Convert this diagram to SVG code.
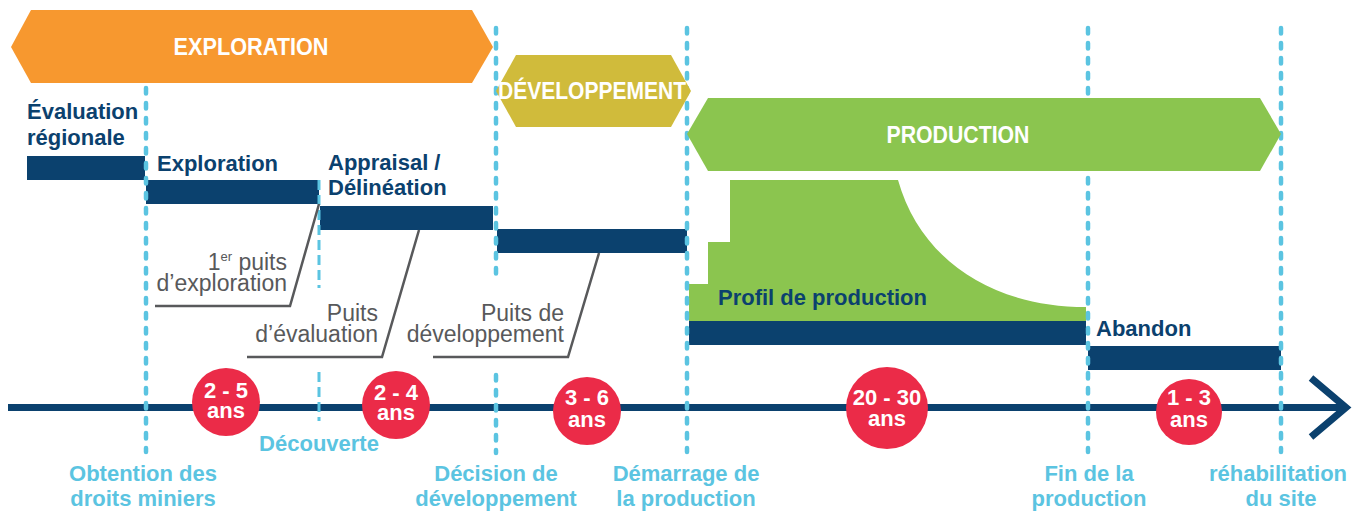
<svg xmlns="http://www.w3.org/2000/svg" width="1364" height="512" viewBox="0 0 1364 512">
  <style>
    .navy { fill: #0B416E; }
    .lbl { font-family: "Liberation Sans", Arial, sans-serif; font-weight: bold; font-size: 22px; fill: #0B416E; }
    .phase { font-family: "Liberation Sans", Arial, sans-serif; font-weight: bold; font-size: 23px; fill: #FFFFFF; text-anchor: middle; }
    .well { font-family: "Liberation Sans", Arial, sans-serif; font-size: 23px; fill: #58595B; text-anchor: end; }
    .mile { font-family: "Liberation Sans", Arial, sans-serif; font-weight: bold; font-size: 22px; fill: #5BC4E1; text-anchor: middle; }
    .dur { font-family: "Liberation Sans", Arial, sans-serif; font-weight: bold; font-size: 22px; fill: #FFFFFF; text-anchor: middle; }
    .guide { stroke: #5BC4E1; stroke-width: 4.5; stroke-linecap: round; stroke-dasharray: 5.5 9.5; fill: none; }
    .guide-thin { stroke: #5BC4E1; stroke-width: 3; stroke-dasharray: 10 5; fill: none; }
    .leader { stroke: #58595B; stroke-width: 2.5; fill: none; stroke-linejoin: miter; }
    .circle { fill: #EB2B48; }
  </style>

  <!-- activity bars -->
  <g id="bar-evaluation-regionale"><rect class="navy" x="27" y="156" width="118" height="24"/></g>
  <g id="bar-exploration"><rect class="navy" x="146" y="180" width="173" height="24"/></g>
  <g id="bar-appraisal"><rect class="navy" x="320" y="206" width="173" height="24"/></g>
  <g id="bar-developpement"><rect class="navy" x="497" y="229" width="190" height="24"/></g>
  <g id="profil-production">
    <path d="M689,321 L689,284 L708,284 L708,242 L730,242 L730,180 L898,180 C920,258 990,307 1086,307 L1086,321 Z" fill="#8BC54F"/>
  </g>
  <g id="bar-production"><rect class="navy" x="689" y="321" width="397" height="24"/></g>
  <g id="bar-abandon"><rect class="navy" x="1088" y="346" width="193" height="24"/></g>

  <!-- time axis -->
  <g id="axis">
    <line x1="8" y1="407.5" x2="1342" y2="407.5" stroke="#0B416E" stroke-width="7"/>
    <polyline points="1311,378 1346,407.5 1311,437" fill="none" stroke="#0B416E" stroke-width="7"/>
  </g>

  <!-- milestone guides -->
  <g id="guides">
    <line class="guide" x1="146" y1="28" x2="146" y2="452"/>
    <line class="guide-thin" x1="319" y1="180" x2="319" y2="288"/>
    <line class="guide-thin" x1="319" y1="372" x2="319" y2="421"/>
    <line class="guide" x1="496" y1="28" x2="496" y2="283"/>
    <line class="guide" x1="496" y1="375" x2="496" y2="453"/>
    <line class="guide" x1="687" y1="28" x2="687" y2="452"/>
    <line class="guide" x1="1088" y1="28" x2="1088" y2="452"/>
    <line class="guide" x1="1281" y1="28" x2="1281" y2="452"/>
  </g>

  <!-- phase banners -->
  <g id="phase-exploration">
    <polygon points="11,47 31,10 472,10 493,47 472,83 31,83" fill="#F7982F"/>
    <text class="phase" x="251" y="55" textLength="155" lengthAdjust="spacingAndGlyphs">EXPLORATION</text>
  </g>
  <g id="phase-developpement">
    <polygon points="496,91 516,55 671,55 691,91 671,127 516,127" fill="#D0BB3B"/>
    <text class="phase" x="592" y="99" textLength="188" lengthAdjust="spacingAndGlyphs">DÉVELOPPEMENT</text>
  </g>
  <g id="phase-production">
    <polygon points="687,134 708,98 1260,98 1281,134 1260,171 708,171" fill="#8BC54F"/>
    <text class="phase" x="958" y="143" textLength="143" lengthAdjust="spacingAndGlyphs">PRODUCTION</text>
  </g>

  <!-- activity labels -->
  <g id="label-evaluation-regionale">
    <text class="lbl" x="27" y="119">Évaluation</text>
    <text class="lbl" x="27" y="145">régionale</text>
  </g>
  <g id="label-exploration"><text class="lbl" x="157" y="171">Exploration</text></g>
  <g id="label-appraisal">
    <text class="lbl" x="328" y="170">Appraisal /</text>
    <text class="lbl" x="328" y="195">Délinéation</text>
  </g>
  <g id="label-profil"><text class="lbl" x="718" y="305">Profil de production</text></g>
  <g id="label-abandon"><text class="lbl" x="1096" y="336">Abandon</text></g>

  <!-- well leaders -->
  <g id="connectors">
    <polyline class="leader" points="319,204 290,306 155,306"/>
    <polyline class="leader" points="419,230 382,357 247,357"/>
    <polyline class="leader" points="599,253 568,357 433,357"/>
  </g>
  <g id="well-exploration">
    <text class="well" x="287" y="270">1<tspan font-size="13" dy="-9">er</tspan><tspan dy="9"> puits</tspan></text>
    <text class="well" x="287" y="291">d’exploration</text>
  </g>
  <g id="well-evaluation">
    <text class="well" x="378" y="321">Puits</text>
    <text class="well" x="378" y="342">d’évaluation</text>
  </g>
  <g id="well-developpement">
    <text class="well" x="564" y="321">Puits de</text>
    <text class="well" x="564" y="342">développement</text>
  </g>

  <!-- durations -->
  <g id="dur-2-5">
    <circle class="circle" cx="226" cy="402" r="34"/>
    <text class="dur" x="226" y="398">2 - 5</text>
    <text class="dur" x="226" y="418">ans</text>
  </g>
  <g id="dur-2-4">
    <circle class="circle" cx="396" cy="405" r="34"/>
    <text class="dur" x="396" y="400">2 - 4</text>
    <text class="dur" x="396" y="420">ans</text>
  </g>
  <g id="dur-3-6">
    <circle class="circle" cx="587" cy="411" r="34"/>
    <text class="dur" x="587" y="405">3 - 6</text>
    <text class="dur" x="587" y="427">ans</text>
  </g>
  <g id="dur-20-30">
    <circle class="circle" cx="887" cy="408" r="41"/>
    <text class="dur" x="887" y="405">20 - 30</text>
    <text class="dur" x="887" y="426">ans</text>
  </g>
  <g id="dur-1-3">
    <circle class="circle" cx="1189" cy="412" r="33"/>
    <text class="dur" x="1189" y="405">1 - 3</text>
    <text class="dur" x="1189" y="427">ans</text>
  </g>

  <!-- milestones -->
  <g id="ms-decouverte"><text class="mile" x="319" y="451">Découverte</text></g>
  <g id="ms-droits">
    <text class="mile" x="143" y="481">Obtention des</text>
    <text class="mile" x="143" y="506">droits miniers</text>
  </g>
  <g id="ms-decision">
    <text class="mile" x="496" y="481">Décision de</text>
    <text class="mile" x="496" y="506">développement</text>
  </g>
  <g id="ms-demarrage">
    <text class="mile" x="686" y="481">Démarrage de</text>
    <text class="mile" x="686" y="506">la production</text>
  </g>
  <g id="ms-fin">
    <text class="mile" x="1089" y="481">Fin de la</text>
    <text class="mile" x="1089" y="506">production</text>
  </g>
  <g id="ms-rehabilitation">
    <text class="mile" x="1278" y="481">réhabilitation</text>
    <text class="mile" x="1281" y="506">du site</text>
  </g>
</svg>
